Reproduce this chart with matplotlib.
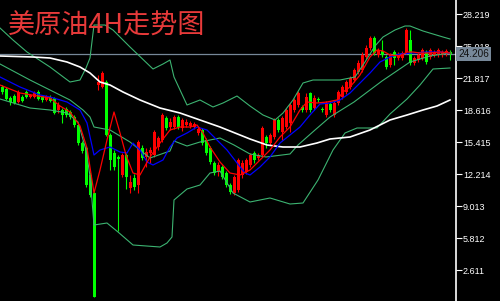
import matplotlib
matplotlib.use('Agg')
import matplotlib.pyplot as plt
import numpy as np

# 4H bars (price)
opens = [20.92, 20.72, 19.82, 20.02, 19.42, 19.92, 20.42, 19.92, 19.92, 20.42,
         20.02, 19.62, 19.92, 19.82, 18.62, 18.62, 18.72, 18.42, 17.92, 17.12,
         15.32, 14.82, 12.12, 10.32, 21.12, 20.92, 21.42, 16.12, 14.32, 13.92,
         12.12, 14.12, 10.82, 11.82, 11.12, 14.82, 13.92, 14.32, 14.12, 14.92,
         15.62, 17.82, 16.92, 16.92, 17.92, 16.82, 17.12, 17.02, 16.92, 16.32,
         16.62, 15.62, 14.82, 13.32, 12.42, 12.92, 12.32, 11.12, 10.32, 10.62,
         12.12, 12.42, 13.12, 14.32, 13.82, 14.12, 15.92, 15.32, 15.92, 17.62,
         16.42, 16.92, 17.32, 18.62, 19.12, 18.92, 18.62, 20.32, 18.82, 19.72,
         18.72, 18.12, 19.22, 18.12, 19.32, 19.92, 20.42, 20.92, 21.62, 22.42,
         22.62, 23.92, 24.82, 25.82, 24.12, 24.52, 23.92, 23.12, 24.42, 23.82,
         23.82, 24.42, 25.62, 23.32, 23.62, 23.82, 24.42, 23.92, 24.12, 24.12,
         24.12, 24.22, 24.42]
highs = [21.12, 20.92, 20.02, 20.22, 20.62, 20.12, 20.62, 20.22, 20.52, 20.62,
         20.12, 20.12, 20.12, 19.92, 19.42, 18.82, 18.92, 18.62, 18.12, 17.22,
         15.52, 15.02, 12.42, 10.42, 22.12, 22.52, 21.62, 16.32, 14.62, 14.12,
         14.32, 14.32, 12.12, 12.22, 15.62, 15.12, 14.82, 14.92, 16.62, 16.02,
         18.32, 18.02, 17.82, 18.12, 18.12, 17.82, 17.72, 17.52, 17.42, 16.92,
         16.82, 15.82, 15.02, 13.52, 13.42, 13.12, 12.52, 11.32, 12.12, 13.82,
         13.62, 13.82, 14.32, 14.52, 14.32, 17.02, 16.12, 16.32, 17.82, 17.82,
         18.02, 18.82, 19.32, 19.82, 20.52, 19.12, 20.32, 20.42, 20.12, 19.92,
         18.92, 19.52, 19.42, 19.52, 20.62, 21.12, 21.62, 22.02, 22.82, 23.62,
         24.42, 25.12, 26.02, 26.02, 24.82, 25.62, 24.12, 24.32, 24.62, 24.42,
         24.52, 26.82, 26.62, 24.02, 24.32, 24.82, 24.62, 24.82, 24.62, 24.82,
         24.62, 24.72, 24.62]
lows = [20.22, 19.62, 19.12, 19.22, 19.32, 19.42, 19.82, 19.82, 19.82, 19.62,
        19.42, 19.52, 19.42, 18.22, 18.32, 17.32, 17.92, 17.72, 16.92, 15.12,
        14.32, 10.92, 9.92, -0.08, 20.62, 20.82, 16.02, 12.62, 12.62, 6.52,
        11.92, 10.72, 10.32, 10.62, 10.32, 13.62, 12.92, 13.32, 13.92, 14.62,
        15.42, 16.62, 16.62, 16.72, 16.72, 16.52, 16.92, 16.82, 16.72, 16.12,
        15.12, 14.12, 13.22, 12.12, 12.02, 11.72, 10.92, 10.22, 10.12, 10.42,
        11.82, 12.22, 12.92, 13.32, 13.62, 13.92, 14.82, 15.12, 15.72, 16.42,
        15.62, 16.72, 16.42, 18.42, 18.92, 18.42, 18.42, 18.42, 18.62, 19.42,
        18.42, 17.92, 18.42, 17.92, 19.12, 19.72, 20.22, 20.72, 21.42, 22.22,
        22.42, 23.72, 24.62, 24.12, 23.92, 23.92, 22.72, 22.92, 23.12, 23.62,
        23.62, 24.22, 23.12, 23.12, 23.42, 23.62, 23.22, 23.72, 23.92, 23.92,
        23.92, 24.02, 23.62]
closes = [20.42, 19.72, 19.42, 19.32, 20.42, 19.52, 19.92, 20.12, 20.32, 19.72,
          19.62, 20.02, 19.52, 18.32, 19.12, 18.12, 18.12, 17.92, 17.12, 15.32,
          14.52, 11.12, 10.12, -0.08, 21.42, 22.32, 16.12, 13.62, 12.92, 13.72,
          14.12, 11.92, 11.42, 10.92, 15.42, 13.82, 14.42, 14.62, 16.42, 15.82,
          18.12, 16.82, 17.42, 17.92, 16.92, 17.62, 17.42, 17.32, 17.22, 16.72,
          15.32, 14.32, 13.42, 12.32, 13.12, 11.92, 11.12, 10.42, 11.92, 13.62,
          13.32, 13.62, 14.12, 13.62, 14.12, 16.82, 15.32, 16.12, 17.62, 16.62,
          17.82, 18.62, 19.12, 19.62, 20.32, 18.62, 19.92, 18.62, 19.82, 19.62,
          18.62, 19.32, 18.62, 19.32, 20.42, 20.92, 21.42, 21.82, 22.62, 23.32,
          24.12, 24.82, 25.82, 24.32, 24.62, 24.12, 22.92, 24.12, 23.82, 24.22,
          24.32, 26.62, 23.32, 23.82, 24.12, 24.62, 23.42, 24.62, 24.42, 24.62,
          24.42, 24.52, 24.21]

# indicator lines, sampled along the chart (bar index, price)
ma5_x = [-0.5, 4.5, 12, 14.5, 17, 19.5, 21.25, 23, 24.5, 26.25, 28, 29.5, 31, 32.75,
         34.5, 37, 39.5, 42, 44.5, 47, 48.75, 50.25, 52, 54.5, 57, 59.5, 62, 64.5,
         67, 69.5, 72, 74.5, 76.25, 78.75, 81.25, 83.75, 85.25, 87, 89.5, 92, 93.75,
         95.25, 97, 99.5, 101.25, 102.75, 104.5, 107, 109.5, 112]
ma5 = [21.12, 20.32, 19.82, 19.02, 18.42, 17.02, 14.82, 10.32, 12.62, 15.62, 18.42,
       16.32, 14.12, 12.32, 12.12, 13.92, 15.32, 16.62, 16.92, 16.92, 17.12, 16.32,
       14.92, 13.42, 12.32, 12.12, 12.62, 13.62, 14.62, 15.92, 16.92, 18.62, 19.42,
       19.32, 19.42, 19.62, 20.42, 20.92, 22.12, 23.92, 24.62, 24.52, 24.12, 24.02,
       24.42, 24.42, 24.32, 24.32, 24.42, 24.32]

ma10_x = [-0.5, 4.5, 9.5, 12, 16.25, 19.5, 21.25, 23, 24.5, 27, 29.5, 31.25, 32.75,
          34.5, 36.25, 37.75, 40.25, 42, 43.75, 46.25, 48.75, 51.25, 53.75, 56.25,
          58.75, 60.75, 62, 64.5, 67, 69.5, 72, 74.5, 77, 79.5, 82, 84.5, 87, 89.5,
          92, 94.5, 97, 99.5, 102.75, 106.25, 109.5, 112]
ma10 = [21.92, 20.92, 20.12, 19.92, 19.42, 18.62, 17.32, 14.12, 14.62, 14.92, 14.42,
        14.32, 15.32, 14.62, 13.42, 13.12, 13.62, 14.92, 15.82, 16.32, 16.92, 16.62,
        15.62, 14.62, 13.32, 12.32, 12.12, 12.92, 13.92, 15.32, 16.12, 16.92, 18.12,
        19.22, 19.32, 19.62, 20.32, 21.32, 22.32, 23.42, 23.92, 24.22, 24.32, 24.42,
        24.42, 24.32]

ma_long_x = [-0.5, 7.75, 12, 16.25, 19.5, 22, 24.5, 27, 30.25, 34.5, 39.5, 44.5,
             49.5, 54.5, 59.5, 62, 66.25, 70.25, 74.5, 78.75, 82, 87, 92, 97,
             101.25, 105.25, 108.75, 112]
ma_long = [24.02, 23.92, 23.82, 23.42, 22.92, 22.32, 21.42, 21.12, 20.42, 19.62,
           18.82, 18.32, 17.62, 16.92, 16.12, 15.72, 15.12, 14.92, 14.92, 15.32,
           15.72, 15.92, 16.62, 17.62, 18.12, 18.62, 19.02, 19.62]

bb_up_x = [-0.5, 2.75, 6.25, 12, 17, 19.5, 21, 22, 23, 25.75, 27.75, 32, 37.75,
           40.25, 42, 43, 46.25, 49.5, 52.75, 55.25, 58.75, 62, 65.25, 68.25,
           70.25, 72.75, 75.25, 77.75, 84.5, 88.25, 90.75, 93.25, 95.25, 98.25,
           100.75, 102, 105.25, 110.25, 112]
bb_up = [26.82, 25.62, 24.42, 22.92, 21.42, 21.62, 22.82, 23.82, 27.12, 27.12,
         26.62, 24.92, 22.72, 23.22, 23.62, 21.92, 19.12, 19.62, 18.92, 19.32,
         20.02, 19.02, 18.12, 17.62, 18.32, 19.62, 21.32, 21.62, 21.62, 21.92,
         23.42, 25.02, 25.92, 26.62, 27.02, 27.02, 26.52, 25.92, 25.72]

bb_mid_x = [-0.5, 7, 12, 17, 20.25, 22, 23, 27, 32, 37, 42, 43, 46.25, 49.5, 54.5,
            58, 62, 66, 72, 74, 78.25, 82, 88, 95, 102, 107, 112]
bb_mid = [23.22, 21.62, 20.62, 19.62, 18.62, 17.92, 16.92, 16.62, 15.42, 13.82,
          14.52, 15.52, 15.02, 15.42, 15.82, 15.12, 14.22, 13.92, 14.22, 15.12,
          16.62, 17.92, 19.42, 21.52, 23.42, 24.02, 24.32]

bb_low_x = [-0.5, 2, 7, 12, 16.25, 19, 21, 22, 23, 26.25, 29, 32.75, 39.5, 41.25,
            42.5, 43, 46.25, 49.5, 52, 54.5, 57.75, 62, 67, 72, 75.25, 79, 82.75,
            85.75, 88.75, 93.75, 97, 101.25, 104.5, 107.75, 112]
bb_low = [19.72, 19.42, 18.82, 18.62, 18.32, 17.42, 14.62, 12.02, 7.12, 7.32, 6.42,
          5.12, 4.92, 5.32, 5.92, 9.62, 10.72, 11.12, 12.32, 12.52, 10.32, 9.42,
          9.82, 9.22, 9.32, 11.62, 14.62, 16.32, 16.82, 16.82, 18.22, 19.72, 21.12,
          22.72, 22.82]

price_ticks = [28.219, 25.018, 21.817, 18.616, 15.415, 12.214, 9.013, 5.812, 2.611]
last_price = 24.206
title = '美原油4H走势图'

fig = plt.figure(figsize=(5, 3.01), dpi=100, facecolor='black')
ax = fig.add_axes([0, 0, 456 / 500, 1])
ax.set_facecolor('black')

o = np.array(opens)
c = np.array(closes)
idx = np.arange(len(o))
cols = np.where(c >= o, '#ff0000', '#00ff00')

ax.axhline(last_price, color='#778899', lw=0.9, zorder=1)

ax.vlines(idx, lows, highs, colors=cols, lw=0.8, zorder=2)
ax.bar(idx, np.maximum(np.abs(c - o), 0.1), bottom=np.minimum(o, c), width=0.75,
       color=cols, linewidth=0, zorder=3)

bb_col = '#3cb371'
ax.plot(bb_up_x, bb_up, color=bb_col, lw=0.8, zorder=4)
ax.plot(bb_mid_x, bb_mid, color=bb_col, lw=0.8, zorder=4)
ax.plot(bb_low_x, bb_low, color=bb_col, lw=0.8, zorder=4)
ax.plot(ma_long_x, ma_long, color='white', lw=1.2, zorder=4)
ax.plot(ma10_x, ma10, color='#0000ff', lw=0.9, zorder=5)
ax.plot(ma5_x, ma5, color='#ff0000', lw=0.9, zorder=6)

ax.set_xlim(-0.5, 113.5)
ax.set_ylim(-0.48, 29.62)

for s in ['top', 'left', 'bottom']:
    ax.spines[s].set_visible(False)
ax.spines['right'].set_color('white')
ax.spines['right'].set_linewidth(1.2)
ax.set_xticks([])
ax.yaxis.tick_right()
ax.set_yticks(price_ticks)
ax.set_yticklabels([f'{v:.3f}' for v in price_ticks], family='Liberation Sans')
ax.tick_params(axis='y', colors='white', length=4, width=0.8, pad=1, labelsize=6.5)

ax.text(1.0045, last_price, f'{last_price:.3f}', transform=ax.get_yaxis_transform(),
        ha='left', va='center', fontsize=7.2, color='#111111', family='Liberation Sans',
        bbox=dict(boxstyle='square,pad=0.18', fc='#778899', ec='none'),
        clip_on=False, zorder=10)

fig.text(8 / 500, 1 - 26 / 301, title, fontsize=19.5, color='#e83a3a',
         family=['Noto Sans CJK SC', 'DejaVu Sans'], ha='left', va='center')

fig.savefig('out.png', dpi=100, facecolor='black')
